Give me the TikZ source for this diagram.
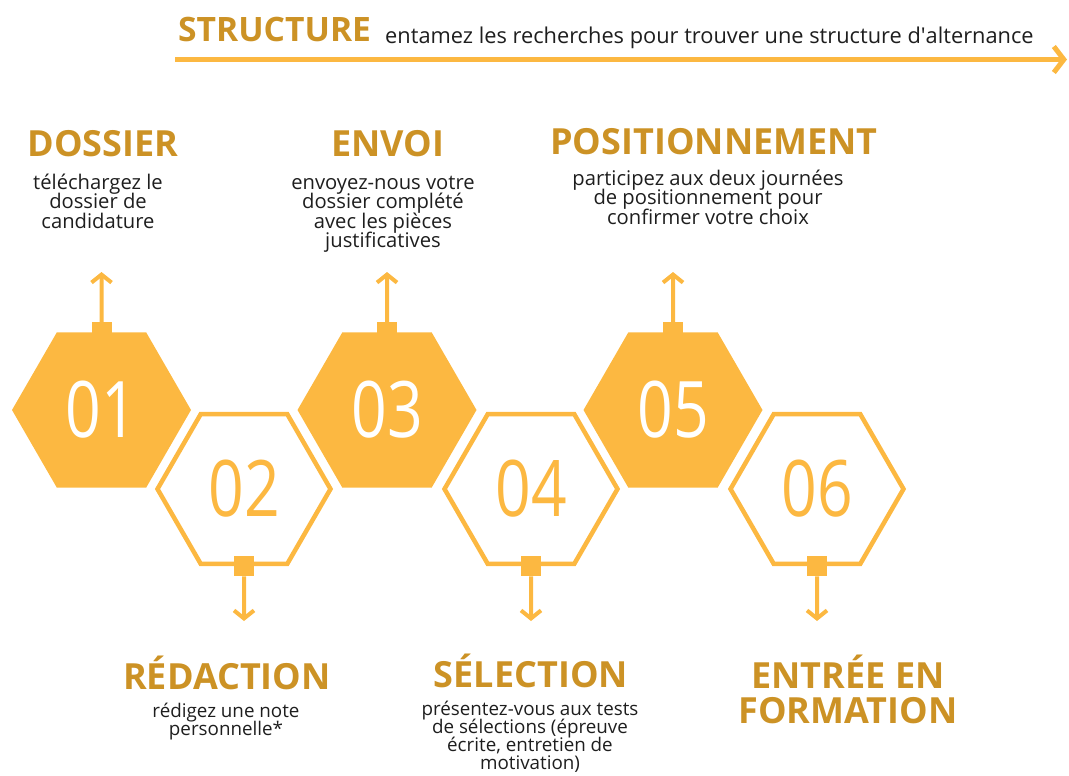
\documentclass[tikz,border=0pt]{standalone}
\usepackage{fontspec}
\setmainfont{Open Sans}
\newfontfamily\osplain{Open Sans}
\usetikzlibrary{shapes.geometric,arrows.meta}
\definecolor{hexc}{HTML}{FCB841}
\definecolor{headc}{HTML}{CC9225}
\definecolor{bodyc}{HTML}{1E1E1E}
\newcommand{\tightlines}{\lineskiplimit=-40pt\lineskip=0pt}
\newcommand{\numfnt}{\fontsize{78}{78}\selectfont}
\newcommand{\headfnt}{\fontsize{36}{35}\selectfont\tightlines\bfseries}
\newcommand{\bodyfnt}{\fontsize{20.2}{19.5}\selectfont\tightlines}
\newcommand{\bodyfntb}{\fontsize{18.8}{17.7}\selectfont\tightlines}
\newcommand{\numtxt}[1]{\scalebox{0.8}[1]{#1}}
\tikzset{
  filledhex/.style={regular polygon, regular polygon sides=6, fill=hexc, draw=none,
    minimum size=179pt, inner sep=0pt, text=white, font=\numfnt},
  outlinehex/.style={regular polygon, regular polygon sides=6, draw=hexc, line width=4.5pt,
    fill=white, minimum size=173pt, inner sep=0pt, text=hexc, font=\numfnt},
  sqbox/.style={fill=hexc, minimum size=20pt, inner sep=0pt},
  conn/.style={draw=hexc, line width=4pt, -{Straight Barb[length=8pt,width=20pt]}},
  topline/.style={draw=hexc, line width=5pt, -{Straight Barb[length=10pt,width=26pt]}},
  head/.style={text=headc, font=\headfnt, inner sep=0pt, anchor=base, align=center},
  body/.style={text=bodyc, font=\bodyfnt, inner sep=0pt, anchor=base, align=center},
  bodyb/.style={text=bodyc, font=\bodyfntb, inner sep=0pt, anchor=base, align=center}
}
\begin{document}
\begin{tikzpicture}[x=1pt,y=-1pt]
\path[use as bounding box] (0,0) rectangle (1069,776);

% top banner
\node[text=headc, font=\fontsize{33.6}{34}\selectfont\bfseries, inner sep=0pt, anchor=base west] (structure) at (178,42) {STRUCTURE};
\node[text=bodyc, font=\fontsize{21.8}{22}\selectfont, inner sep=0pt, anchor=base west] (structtxt) at (385,44) {entamez les recherches pour trouver une structure d{\osplain'}alternance};
\coordinate (ls) at (175,59.5);
\coordinate (le) at (1067,59.5);
\draw[topline] (ls) -- (le);

% hexagons
\node[filledhex]  (h1) at (101.5,410) {\numtxt{01}};
\node[outlinehex] (h2) at (244,489)   {\numtxt{02}};
\node[filledhex]  (h3) at (387,410)   {\numtxt{03}};
\node[outlinehex] (h4) at (531,489)   {\numtxt{04}};
\node[filledhex]  (h5) at (673,410)   {\numtxt{05}};
\node[outlinehex] (h6) at (817,489)   {\numtxt{06}};

% squares
\node[sqbox] (s1) at (h1.north) {};
\node[sqbox] (s3) at (h3.north) {};
\node[sqbox] (s5) at (h5.north) {};
\node[sqbox] (s2) at (h2.south) {};
\node[sqbox] (s4) at (h4.south) {};
\node[sqbox] (s6) at (h6.south) {};

% arrow ends
\coordinate (a1) at (101.5,272);
\coordinate (a3) at (387,272);
\coordinate (a5) at (673,272);
\coordinate (a2) at (244,621);
\coordinate (a4) at (531,621);
\coordinate (a6) at (817,621);
\draw[conn] (s1.north) -- (a1);
\draw[conn] (s3.north) -- (a3);
\draw[conn] (s5.north) -- (a5);
\draw[conn] (s2.south) -- (a2);
\draw[conn] (s4.south) -- (a4);
\draw[conn] (s6.south) -- (a6);

% headings (base anchor = baseline of last line)
\node[head] (t1) at (103,156) {DOSSIER};
\node[head] (t3) at (388,156) {ENVOI};
\node[head] (t5) at (714,154) {POSITIONNEMENT};
\node[head] (t2) at (227,689) {RÉDACTION};
\node[head] (t4) at (531,687) {SÉLECTION};
\node[head] (t6) at (848,723) {ENTRÉE EN\\FORMATION};

% descriptions (base anchor = baseline of last line)
\node[body] (d1) at (98,228) {téléchargez le\\dossier de\\candidature};
\node[body] (d3) at (383,247.5) {envoyez-nous votre\\dossier complété\\avec les pièces\\justificatives};
\node[body] (d5) at (708,224) {participez aux deux journées\\de positionnement pour\\confirmer votre choix};
\node[bodyb] (d2) at (226,735) {rédigez une note\\personnelle*};
\node[bodyb] (d4) at (530,769) {présentez-vous aux tests\\de sélections (épreuve\\écrite, entretien de\\motivation)};
\end{tikzpicture}
\end{document}
